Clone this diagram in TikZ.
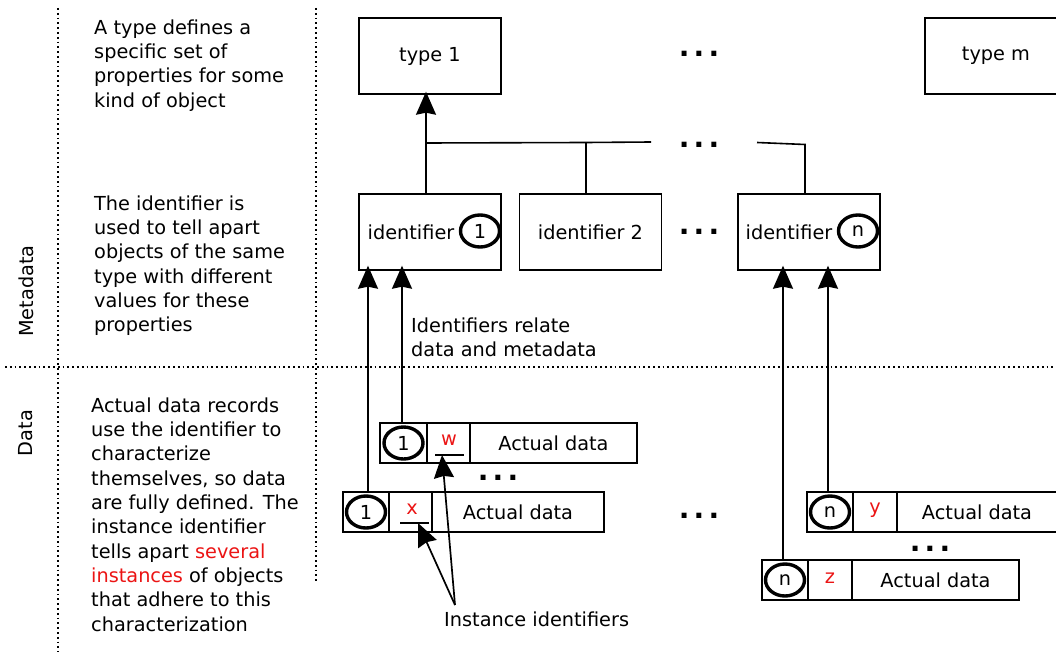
\documentclass[tikz,border=0pt]{standalone}
\usepackage{fontspec}
\setmainfont{DejaVu Sans}
\usetikzlibrary{arrows.meta,shapes.geometric}

\definecolor{idred}{RGB}{235,20,20}
\newcommand\txtsize{\fontsize{19.3}{24.3}\selectfont}
\newcommand\ellip{{\fontsize{28}{28}\selectfont\bfseries .\kern4.3pt.\kern4.3pt.}}

\tikzset{
  box/.style={draw, line width=1.4pt, minimum width=142pt, minimum height=76pt, inner sep=0pt, font=\txtsize},
  cell/.style={draw, line width=1.8pt, minimum height=40pt, inner sep=0pt, font=\txtsize},
  oval/.style={draw, ellipse, line width=3.4pt, minimum width=39pt, minimum height=32pt, inner sep=0pt, font=\txtsize},
  label/.style={inner sep=0pt, font=\txtsize},
  note/.style={inner sep=0pt, anchor=north west, align=left, font=\txtsize},
  gap/.style={inner sep=0pt},
  link/.style={line width=1.6pt},
  arr/.style={line width=1.7pt, -{Stealth[length=23pt, width=20pt, inset=2pt]}},
  sep/.style={line width=1.8pt, dash pattern=on 1.8pt off 3pt},
  uline/.style={line width=1.8pt},
}

\begin{document}
\begin{tikzpicture}[x=1pt, y=-1pt]
\useasboundingbox (0,0) rectangle (1056,652);

% section separators
\draw[sep] (58,8) -- (58,652);
\draw[sep] (316,8) -- (316,583);
\draw[sep] (5,367) -- (1056,367);

% section titles
\node[label, rotate=90] (lmeta) at (26,291) {Metadata};
\node[label, rotate=90] (ldata) at (26,433) {Data};

% explanations
\node[note] (n1) at (94,19.5) {A type defines a\\specific set of\\properties for some\\kind of object};
\node[note] (n2) at (94,195.5) {The identifier is\\used to tell apart\\objects of the same\\type with different\\values for these\\properties};
\node[note] (n3) at (91,397.5) {Actual data records\\use the identifier to\\characterize\\themselves, so data\\are fully defined. The\\instance identifier\\tells apart \textcolor{idred}{several}\\\textcolor{idred}{instances} of objects\\that adhere to this\\characterization};

% types
\node[box] (t1) at (430,56) {type 1};
\node[box] (tm) at (996,56) {type m};
\node[gap] (d1) at (699,54) {\ellip};

% identifiers
\node[box] (id1) at (430,232) {};
\node[label] (id1t) at (411,232) {identifier};
\node[oval] (id1c) at (480,231) {1};
\node[box] (id2) at (590.5,232) {identifier 2};
\node[box] (idn) at (809,232) {};
\node[label] (idnt) at (789,232) {identifier};
\node[oval] (idnc) at (858,231) {n};
\node[gap] (d2) at (699,232) {\ellip};

% identifiers refer to their type
\coordinate (s1) at ([xshift=-4pt]id1.north);
\coordinate (s2) at ([xshift=-4.5pt]id2.north);
\coordinate (sn) at ([xshift=-4pt]idn.north);
\coordinate (j1) at (s1 |- 0,143);
\coordinate (j2) at (s2 |- 0,142.5);
\coordinate (ja) at (651,142);
\coordinate (jb) at (757,142.5);
\coordinate (jn) at (sn |- 0,144.5);
\node[gap] (d3) at (699,145) {\ellip};
\draw[arr, shorten >=-3pt] (s1) -- (s1 |- t1.south);
\draw[link] (j1) -- (j2) -- (ja);
\draw[link] (j2) -- (s2);
\draw[link] (jb) -- (jn) -- (sn);

\node[label, anchor=north west, align=left] (rel) at (411,317.5) {Identifiers relate\\data and metadata};

% data records of identifier 1
\node[cell, minimum width=47pt] (w1) at (403.5,443) {};
\node[cell, minimum width=43pt] (w2) at (448.5,443) {};
\node[cell, minimum width=167pt] (w3) at (553.5,443) {Actual data};
\node[oval] (w1c) at (w1.center) {1};
\node[label, text=idred] (w) at (449,440) {w};
\coordinate (wu1) at (435,455);
\coordinate (wu2) at (464,455);
\draw[uline] (wu1) -- (wu2);
\node[gap] (d4) at (498,478) {\ellip};

\node[cell, minimum width=46pt] (x1) at (366,512) {};
\node[cell, minimum width=43pt] (x2) at (410.5,512) {};
\node[cell, minimum width=172pt] (x3) at (518,512) {Actual data};
\node[oval] (x1c) at (x1.center) {1};
\node[label, text=idred] (x) at (412,509) {x};
\coordinate (xu1) at (400,523);
\coordinate (xu2) at (429,523);
\draw[uline] (xu1) -- (xu2);

\node[gap] (d5) at (699,516) {\ellip};

% data records of identifier n
\node[cell, minimum width=46pt] (y1) at (830,512) {};
\node[cell, minimum width=44pt] (y2) at (875,512) {};
\node[cell, minimum width=164pt] (y3) at (979,512) {};
\node[label] (y3t) at (977,512) {Actual data};
\node[oval] (y1c) at (y1.center) {n};
\node[label, text=idred] (y) at (875,510) {y};
\node[gap] (d6) at (930,549) {\ellip};

\node[cell, minimum width=46pt] (z1) at (785,580) {};
\node[cell, minimum width=44pt] (z2) at (830,580) {};
\node[cell, minimum width=167pt] (z3) at (935.5,580) {Actual data};
\node[oval] (z1c) at (z1.center) {n};
\node[label, text=idred] (z) at (830,578) {z};

% records point to their identifier
\coordinate (rx) at ([xshift=2pt]x1.north);
\coordinate (rw) at ([xshift=-1.5pt]w1.north);
\coordinate (rz) at ([xshift=-2pt]z1.north);
\coordinate (ry) at ([xshift=-2pt]y1.north);
\draw[arr, shorten >=-5pt] (rx) -- (rx |- id1.south);
\draw[arr, shorten >=-5pt] (rw) -- (rw |- id1.south);
\draw[arr, shorten >=-5pt] (rz) -- (rz |- idn.south);
\draw[arr, shorten >=-5pt] (ry) -- (ry |- idn.south);

% instance identifiers
\node[label, anchor=north west] (inst) at (444,612) {Instance identifiers};
\coordinate (src) at (455,605);
\coordinate (xtip) at (418,523);
\coordinate (wtip) at (442,455);
\draw[arr] (src) -- (xtip);
\draw[arr] (src) -- (wtip);
\end{tikzpicture}
\end{document}
